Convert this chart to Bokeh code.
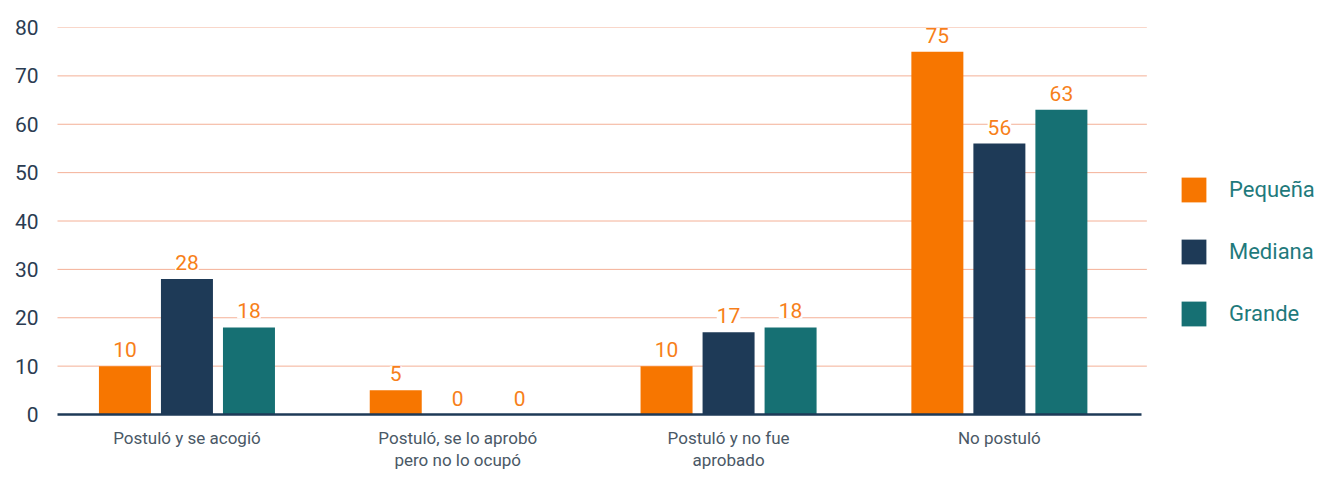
from bokeh.plotting import figure
from bokeh.models import (ColumnDataSource, Range1d, FixedTicker, Legend, LegendItem, LabelSet)
from bokeh.core.properties import value
from bokeh.embed import file_html
from bokeh.resources import INLINE

categories = ["Postuló y se acogió", "Postuló, se lo aprobó\npero no lo ocupó",
              "Postuló y no fue\naprobado", "No postuló"]
series = ["Pequeña", "Mediana", "Grande"]
pequena = [10, 5, 10, 75]
mediana = [28, 0, 17, 56]
grande = [18, 0, 18, 63]
colors = ["#F77600", "#1E3A57", "#167073"]
y_ticks = [0, 10, 20, 30, 40, 50, 60, 70, 80]

FONT = "Roboto"
offsets = [-0.229, 0.0, 0.229]
bar_w = 0.192
x_start, x_end = -0.478, 4.171     # frame spans the legend area too
grid_end, axis_end = 3.543, 3.525

p = figure(width=1316, height=472, output_backend="svg", toolbar_location=None,
           x_range=Range1d(x_start, x_end), y_range=Range1d(0, 80),
           min_border_left=57, min_border_right=0, min_border_top=27,
           min_border_bottom=53)
p.outline_line_color = None
p.background_fill_color = "white"
p.xgrid.grid_line_color = None
p.ygrid.grid_line_color = None

# dotted horizontal grid lines, limited to the chart area
gl = ColumnDataSource(dict(x0=[x_start] * (len(y_ticks) - 1),
                           x1=[grid_end] * (len(y_ticks) - 1), y=y_ticks[1:]))
p.segment(x0="x0", y0="y", x1="x1", y1="y", source=gl, line_color="#E8602F",
          line_dash="1 1", line_width=1)

# y axis
p.yaxis.ticker = FixedTicker(ticks=y_ticks)
p.yaxis.axis_line_color = None
p.yaxis.major_tick_line_color = None
p.yaxis.minor_tick_line_color = None
p.yaxis.major_tick_out = 0
p.yaxis.major_label_standoff = 19
p.yaxis.major_label_text_font = FONT
p.yaxis.major_label_text_font_size = "21px"
p.yaxis.major_label_text_color = "#2B3C52"
p.yaxis.major_label_text_baseline = "alphabetic"

# x axis
p.xaxis.ticker = FixedTicker(ticks=list(range(len(categories))))
p.xaxis.major_label_overrides = {i: c for i, c in enumerate(categories)}
p.xaxis.bounds = (x_start, axis_end)
p.xaxis.axis_line_color = "#1E3A57"
p.xaxis.axis_line_width = 2.5
p.xaxis.major_tick_line_color = None
p.xaxis.minor_tick_line_color = None
p.xaxis.major_tick_out = 0
p.xaxis.major_label_standoff = 13
p.xaxis.major_label_text_font = FONT
p.xaxis.major_label_text_font_size = "17px"
p.xaxis.major_label_text_line_height = 1.1
p.xaxis.major_label_text_color = "#4A5866"

items = []
for vals, name, col, off in zip([pequena, mediana, grande], series, colors, offsets):
    xs = [i + off for i in range(len(categories))]
    src = ColumnDataSource(dict(x=xs, top=vals, lbl=[str(v) for v in vals]))
    r = p.vbar(x="x", top="top", width=bar_w, source=src, fill_color=col, line_color=None)
    labels = LabelSet(x="x", y="top", text="lbl", source=src, text_align="center",
                      text_baseline="alphabetic", y_offset=9, text_font=value(FONT),
                      text_font_size="21px", text_color="#F77F1A",
                      background_fill_color="white")
    p.add_layout(labels)
    items.append(LegendItem(label=name, renderers=[r]))

legend = Legend(items=items, location=(1121, 85), orientation="vertical",
                glyph_width=31, glyph_height=31, spacing=31, label_standoff=20,
                padding=0, margin=0, border_line_color=None,
                background_fill_alpha=0, label_text_font=FONT,
                label_text_font_size="22px", label_text_color="#1F7A7C")
p.add_layout(legend, "center")

open("out.html", "w").write(file_html(p, INLINE))
